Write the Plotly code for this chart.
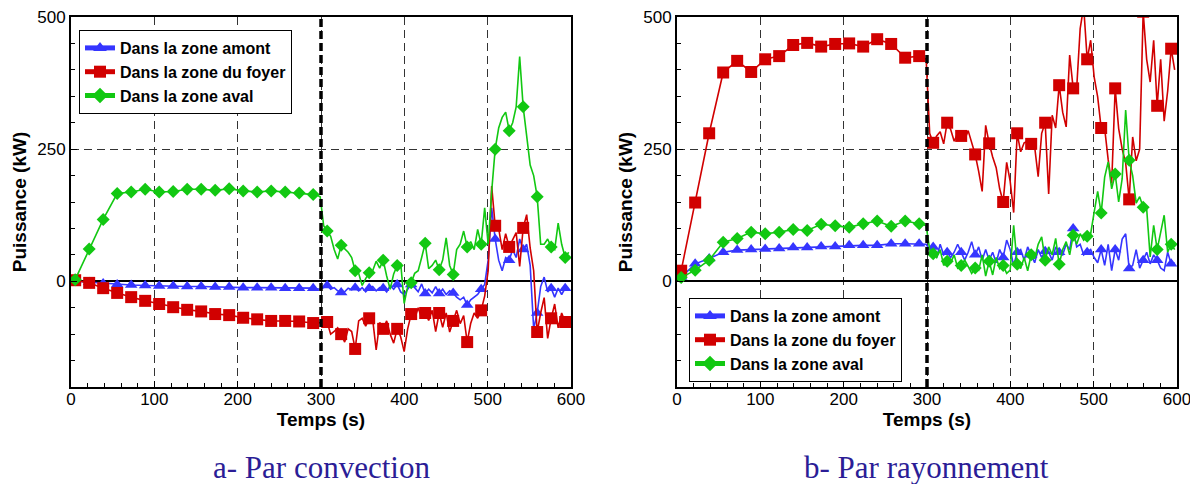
import plotly.graph_objects as go

# ---------------- data ----------------
time_s = [5.0, 21.8, 38.6, 55.4, 72.2, 89.0, 105.8, 122.6, 139.4, 156.2, 173.0, 189.8,
          206.6, 223.4, 240.2, 257.0, 273.8, 290.6,
          294.8, 299.0, 303.2, 307.4, 311.6, 315.8, 320.0, 324.2, 328.4, 332.6, 336.8, 341.0,
          345.2, 349.4, 353.6, 357.8, 362.0, 366.2, 370.4, 374.6, 378.8, 383.0, 387.2, 391.4,
          395.6, 399.8, 404.0, 408.2, 412.4, 416.6, 420.8, 425.0, 429.2, 433.4, 437.6, 441.8,
          446.0, 450.2, 454.4, 458.6, 462.8, 467.0, 471.2, 475.4, 479.6, 483.8, 488.0, 492.2,
          496.4, 500.6, 504.8, 509.0, 513.2, 517.4, 521.6, 525.8, 530.0, 534.2, 538.4, 542.6,
          546.8, 551.0, 555.2, 559.4, 563.6, 567.8, 572.0, 576.2, 580.4, 584.6, 588.8, 593.0,
          597.2]

series_names = ["Dans la zone amont", "Dans la zone du foyer", "Dans la zone aval"]

# a- Par convection
conv_amont = [0, -2, -4, -6, -7, -8, -9, -9, -10, -10, -11, -11, -12, -12, -12, -13, -13, -13,
              -14, -15, -12, -8, -15, -12, -18, -21, -20, -13, -16, -12,
              -18, -12, -20, -13, -10, -18, -12, -13, -20, -8, -15, -6,
              -20, -25, -15, -6, -12, -20, -5, -23, -15, -22, -10, -23,
              -15, -25, -18, -22, -30, -35, -30, -45, -35, -30, -25, -15,
              -6, 40, 139, 80, 40, 20, 45, 40, 60, 45, 80, 60,
              70, 30, -90, -60, -10, 8, -20, -13, -30, -13, -25, -13, -15]
conv_foyer = [2, -3, -13, -22, -30, -37, -43, -49, -54, -57, -62, -64, -69, -72, -75, -75, -76, -79,
              -80, -78, -82, -77, -100, -95, -88, -100, -115, -90, -95, -128,
              -75, -70, -85, -70, -72, -130, -78, -90, -75, -100, -117, -90,
              -105, -133, -90, -62, -71, -50, -70, -60, -74, -55, -95, -60,
              -87, -60, -96, -75, -55, -80, -65, -115, -80, -60, -70, -55,
              -28, 20, 180, 105, 100, 60, 90, 65, 80, 92, 28, 101,
              126, 63, 20, -96, -60, -31, -108, -70, -43, -88, -60, -77, -77]
conv_aval = [3, 61, 117, 166, 169, 174, 169, 170, 174, 174, 172, 175, 171, 169, 171, 169, 167, 164,
             163, 160, 105, 95, 85, 60, 42, 68, 62, 55, 45, 20,
             15, -8, 5, 16, 20, 38, 25, 40, 10, -15, 14, 30,
             35, -42, -10, -3, 15, 20, 45, 72, 24, 30, 40, 22,
             40, 82, 30, 13, 60, 70, 95, 65, 75, 60, 98, 70,
             139, 70, 170, 250, 290, 310, 320, 285, 300, 330, 425, 330,
             275, 220, 200, 160, 70, 70, 80, 65, 60, 110, 70, 45, 55]

# b- Par rayonnement
rad_amont = [8, 33, 43, 55, 59, 60, 61, 62, 64, 64, 66, 66, 68, 68, 68, 71, 71, 71,
             71, 70, 60, 65, 45, 70, 50, 55, 45, 55, 70, 55,
             40, 55, 75, 50, 65, 40, 60, 40, 55, 35, 60, 45,
             78, 60, 30, 55, 60, 40, 65, 50, 35, 60, 45, 57,
             55, 40, 65, 55, 50, 70, 60, 100, 65, 70, 50, 55,
             60, 45, 35, 60, 30, 70, 20, 60, 40, 80, 90, 24,
             30, 60, 25, 40, 55, 33, 50, 40, 25, 20, 55, 33, 35]
rad_foyer = [20, 149, 280, 395, 417, 396, 420, 426, 447, 451, 444, 449, 450, 444, 458, 449, 423, 426,
             425, 420, 280, 262, 275, 283, 260, 300, 287, 265, 280, 275,
             268, 285, 260, 240, 208, 170, 295, 261, 235, 215, 175, 150,
             225, 189, 130, 280, 245, 262, 265, 260, 254, 198, 280, 300,
             165, 314, 290, 371, 320, 292, 428, 365, 365, 478, 520, 420,
             456, 386, 349, 290, 289, 230, 185, 365, 289, 250, 224, 155,
             273, 228, 250, 510, 420, 377, 456, 332, 420, 303, 360, 440, 400]
rad_aval = [7, 21, 40, 74, 81, 93, 90, 93, 98, 96, 108, 105, 102, 109, 114, 104, 114, 109,
            108, 105, 60, 52, 45, 60, 30, 38, 35, 50, 25, 30,
            40, 28, 15, 25, 21, 50, 10, 38, 12, 45, 24, 30,
            15, 21, 106, 32, 24, 45, 20, 50, 43, 70, 84, 40,
            65, 50, 81, 32, 60, 75, 50, 87, 70, 90, 78, 85,
            90, 131, 170, 129, 197, 226, 175, 203, 150, 194, 324, 229,
            200, 148, 160, 140, 137, 46, 106, 60, 90, 125, 55, 70, 60]

x_ticks = [0, 100, 200, 300, 400, 500, 600]
y_ticks = [0, 250, 500]
event_time = 300
captions = ["a- Par convection", "b- Par rayonnement"]

# ---------------- styling ----------------
COLORS = ["#3535ff", "#d10000", "#12c812"]
SYMBOLS = ["triangle-up", "square", "diamond"]
MSIZE = [11, 12, 10]
SANS = "Liberation Sans, Arial, sans-serif"
SERIF = "Liberation Serif, Times New Roman, serif"

# a marker every sample in the smooth phase, every 4th sample afterwards
n_pre = 18
marker_on = [i < n_pre or (i - (n_pre - 1)) % 4 == 0 for i in range(len(time_s))]

fig = go.Figure()
panels = [
    ("x", "y", "legend", [conv_amont, conv_foyer, conv_aval]),
    ("x2", "y2", "legend2", [rad_amont, rad_foyer, rad_aval]),
]
for xa, ya, lg, sers in panels:
    for k, vals in enumerate(sers):
        sizes = [MSIZE[k] if m else 0 for m in marker_on]
        fig.add_trace(go.Scatter(
            x=time_s, y=vals, mode="lines+markers", name=series_names[k],
            xaxis=xa, yaxis=ya, legend=lg,
            line=dict(color=COLORS[k], width=1.6),
            marker=dict(symbol=SYMBOLS[k], size=sizes, color=COLORS[k], opacity=1,
                        line=dict(width=0)),
            cliponaxis=True,
        ))

# the page body has an 8 px margin: size the figure so it fills the 1198x484 window
PAGE_W, PAGE_H, OFF = 1198, 484, 8
W, H = PAGE_W - OFF, PAGE_H - OFF


def px_x(px):
    return (px - OFF) / W


def px_y(py):
    return 1 - (py - OFF) / H


x_doms = [[px_x(71), px_x(571)], [px_x(677), px_x(1177)]]
y_dom = [px_y(387), px_y(17)]


def xaxis(dom, anchor):
    return dict(domain=dom, anchor=anchor, range=[0, 600], tickvals=x_ticks,
                automargin=False, ticklabelstandoff=-4, ticklabeloverflow="allow",
                showline=True, linecolor="black", linewidth=2, mirror=True,
                ticks="inside", ticklen=6, tickwidth=1, tickcolor="black",
                showgrid=True, gridcolor="#333333", gridwidth=1, griddash="8px,5px",
                zeroline=False,
                minor=dict(dtick=20, tick0=0, ticks="inside", ticklen=4, tickcolor="black",
                           showgrid=False),
                tickfont=dict(family=SANS, size=17, color="black"),
                title=dict(text="Temps (s)", font=dict(family=SANS, size=19, color="black",
                                                       weight="bold"), standoff=2))


def yaxis(anchor):
    return dict(domain=y_dom, anchor=anchor, range=[-200, 500], tickvals=y_ticks,
                automargin=False, ticklabeloverflow="allow",
                showline=True, linecolor="black", linewidth=2, mirror=True,
                ticks="inside", ticklen=6, tickwidth=1, tickcolor="black",
                showgrid=True, gridcolor="#333333", gridwidth=1, griddash="8px,5px",
                zeroline=True, zerolinecolor="black", zerolinewidth=1.5,
                minor=dict(dtick=50, tick0=0, ticks="inside", ticklen=4, tickcolor="black",
                           showgrid=False),
                tickfont=dict(family=SANS, size=17, color="black"),
                title=dict(text="Puissance (kW)", font=dict(family=SANS, size=19, color="black",
                                                            weight="bold"), standoff=6))


legend_common = dict(bgcolor="white", bordercolor="black", borderwidth=1,
                     font=dict(family=SANS, size=16, color="black", weight="bold"),
                     itemsizing="constant", xanchor="left", yanchor="top", tracegroupgap=0)

fig.update_layout(
    width=W, height=H, margin=dict(l=0, r=0, t=0, b=0, autoexpand=False),
    paper_bgcolor="white", plot_bgcolor="white",
    xaxis=xaxis(x_doms[0], "y"), yaxis=yaxis("x"),
    xaxis2=xaxis(x_doms[1], "y2"), yaxis2=yaxis("x2"),
    legend=dict(x=px_x(79), y=px_y(30), **legend_common),
    legend2=dict(x=px_x(689), y=px_y(298), **legend_common),
    shapes=[
        dict(type="line", xref=xr, yref=f"{yr} domain", x0=event_time, x1=event_time,
             y0=0, y1=1, layer="above",
             line=dict(color="black", width=3.5, dash="8px,4px"))
        for xr, yr in [("x", "y"), ("x2", "y2")]
    ],
    annotations=[
        dict(text=captions[i], xref="paper", yref="paper",
             x=sum(x_doms[i]) / 2, y=px_y(467), xanchor="center", yanchor="middle",
             showarrow=False, font=dict(family=SERIF, size=31, color="#2b1d96"))
        for i in range(2)
    ],
)

fig.write_html("out.html")
